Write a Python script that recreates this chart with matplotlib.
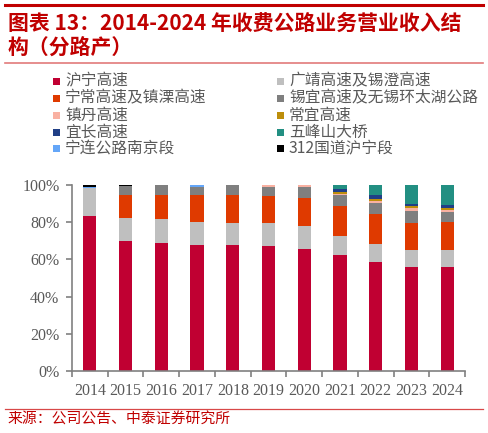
import matplotlib
matplotlib.use('Agg')
import matplotlib.pyplot as plt
import matplotlib.patches as mpatches
import numpy as np

plt.rcParams['font.family'] = ['Noto Sans CJK SC', 'DejaVu Sans']

# 数据（单位：%）
years = ['2014', '2015', '2016', '2017', '2018', '2019', '2020', '2021', '2022', '2023', '2024']

huning = [83.4, 70.1, 69.0, 68.0, 67.6, 67.1, 65.6, 62.4, 58.8, 55.8, 55.8]
guangjing = [15.1, 12.1, 12.7, 12.0, 11.9, 12.4, 12.4, 10.2, 9.4, 9.3, 9.3]
ningchang = [0.0, 12.4, 13.3, 15.0, 15.1, 14.7, 15.4, 16.2, 16.2, 14.4, 15.3]
xiyi = [0.0, 5.0, 5.0, 4.1, 5.4, 4.9, 5.7, 5.9, 6.2, 6.8, 5.1]
zhendan = [0.0, 0.0, 0.0, 0.0, 0.0, 0.9, 0.9, 0.8, 1.0, 1.3, 1.2]
changyi = [0.0, 0.0, 0.0, 0.0, 0.0, 0.0, 0.0, 0.9, 1.1, 1.4, 1.2]
yichang = [0.0, 0.0, 0.0, 0.0, 0.0, 0.0, 0.0, 1.4, 2.1, 0.9, 1.5]
wufengshan = [0.0, 0.0, 0.0, 0.0, 0.0, 0.0, 0.0, 2.2, 5.2, 10.1, 10.6]
ninglian = [0.5, 0.0, 0.0, 0.9, 0.0, 0.0, 0.0, 0.0, 0.0, 0.0, 0.0]
guodao312 = [1.0, 0.4, 0.0, 0.0, 0.0, 0.0, 0.0, 0.0, 0.0, 0.0, 0.0]

series = [
    ('沪宁高速', huning, '#C00032'),
    ('广靖高速及锡澄高速', guangjing, '#BFBFBF'),
    ('宁常高速及镇溧高速', ningchang, '#DF3A00'),
    ('锡宜高速及无锡环太湖公路', xiyi, '#7F7F7F'),
    ('镇丹高速', zhendan, '#F9B1A2'),
    ('常宜高速', changyi, '#BD8E0B'),
    ('宜长高速', yichang, '#203F86'),
    ('五峰山大桥', wufengshan, '#228F82'),
    ('宁连公路南京段', ninglian, '#64A6F8'),
    ('312国道沪宁段', guodao312, '#000000'),
]

W, H = 488, 433
fig = plt.figure(figsize=(W / 100, H / 100), dpi=100, facecolor='white')

def fx(px):
    return px / W

def fy(py):
    return 1 - py / H

red = '#C00000'
axis_gray = '#808080'
text_gray = '#595959'

# header / footer lines
fig.add_artist(plt.Line2D([fx(5), fx(483)], [fy(5), fy(5)], color=red, lw=2.2))
fig.add_artist(plt.Line2D([fx(5), fx(483)], [fy(62.5), fy(62.5)], color='#E27A7A', lw=1.2))
fig.add_artist(plt.Line2D([fx(5), fx(483)], [fy(409), fy(409)], color='#D84848', lw=0.9))

fig.text(fx(8), fy(23), '图表 13：2014-2024 年收费公路业务营业收入结', color=red,
         fontsize=15, fontweight='bold', style='italic', va='center', ha='left')
fig.text(fx(8), fy(48), '构（分路产）', color=red,
         fontsize=15, fontweight='bold', style='italic', va='center', ha='left')
fig.text(fx(7), fy(420), '来源：公司公告、中泰证券研究所', color=red,
         fontsize=10.7, va='center', ha='left')

# legend (two columns, row-major order)
row_y = [81, 98, 115, 132, 148]
col_x = [53, 277]
for i, (name, _, color) in enumerate(series):
    r, c = divmod(i, 2)
    x0 = col_x[c]
    y0 = row_y[r]
    fig.add_artist(mpatches.Rectangle((fx(x0), fy(y0 + 3.5)), fx(7), 7 / H,
                                      facecolor=color, edgecolor='none'))
    fig.text(fx(x0 + 12), fy(y0), name, color=text_gray, fontsize=11.3,
             va='center', ha='left')

# chart
ax = fig.add_axes([fx(72), fy(370.7), fx(465 - 72), (370.7 - 185.3) / H])
x = np.arange(len(years))
bottom = np.zeros(len(years))
for name, vals, color in series:
    vals = np.array(vals) / 100.0
    ax.bar(x, vals, width=0.37, bottom=bottom, color=color, edgecolor='none')
    bottom += vals

ax.set_xlim(-0.5, len(years) - 0.5)
ax.set_ylim(0, 1.0)
ax.set_yticks(np.arange(0, 1.01, 0.2))
ax.set_yticklabels([f'{int(round(v * 100))}%' for v in np.arange(0, 1.01, 0.2)])
ax.set_xticks(x)
ax.set_xticklabels(years)
ax.set_xticks(np.arange(-0.5, len(years), 1.0), minor=True)

for s in ['top', 'right']:
    ax.spines[s].set_visible(False)
for s in ['left', 'bottom']:
    ax.spines[s].set_color(axis_gray)
    ax.spines[s].set_linewidth(1.2)

ax.tick_params(axis='x', which='major', length=0, pad=9)
ax.tick_params(axis='x', which='minor', length=4, width=1.2, color=axis_gray, direction='out')
ax.tick_params(axis='y', length=4, width=1.2, color=axis_gray, direction='out', pad=5)
for lab in ax.get_xticklabels() + ax.get_yticklabels():
    lab.set_fontfamily('Liberation Serif')
    lab.set_fontsize(11.5)
    lab.set_color(text_gray)

fig.savefig('out.png', dpi=100, facecolor='white')
